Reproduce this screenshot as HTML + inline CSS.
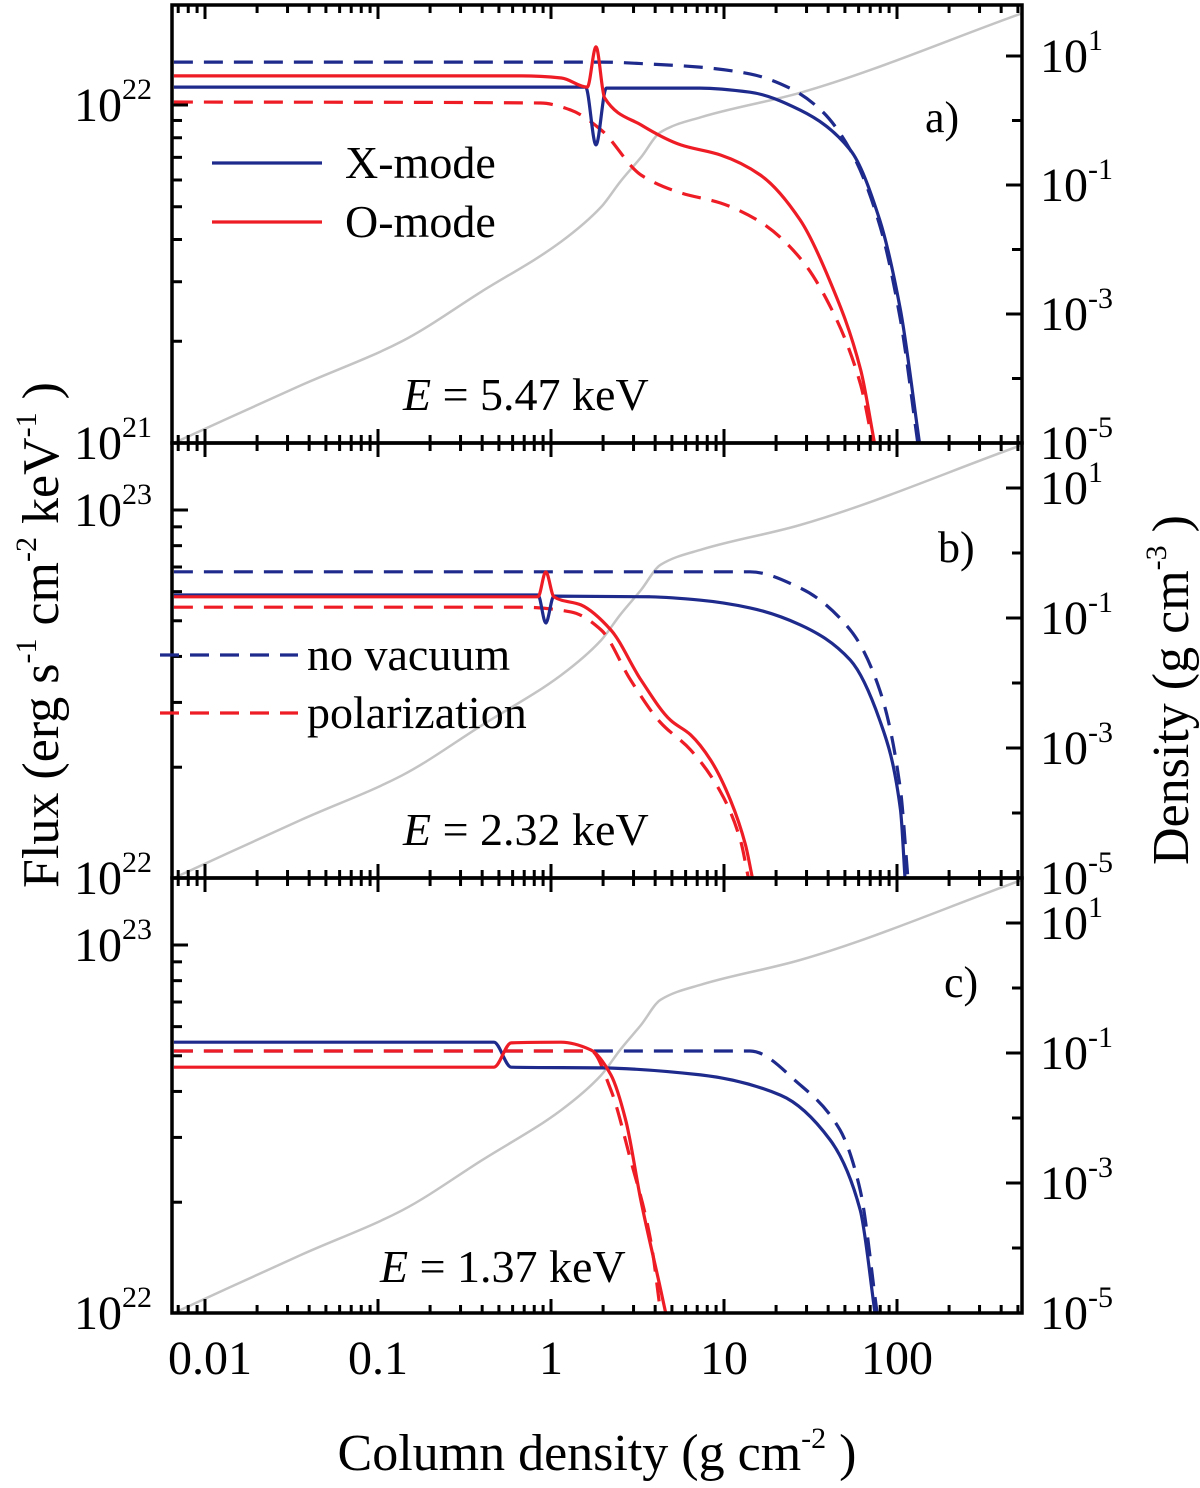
<!DOCTYPE html>
<html><head><meta charset="utf-8"><style>
html,body{margin:0;padding:0;background:#fff;}
svg text{font-family:"Liberation Serif",serif;fill:#000;}
</style></head><body>
<svg id="chart" width="1200" height="1483" viewBox="0 0 1200 1483" xmlns="http://www.w3.org/2000/svg"></svg>
<script>
// ---- data (log10 values) ----
const densCol = [-2.18,-1.44,-0.86,-0.40,0.058,0.29,0.40,0.52,0.634,0.865,1.44,2.72];
const densVal = [-5,-4.1,-3.42,-2.65,-1.88,-1.34,-0.95,-0.57,-0.18,0.05,0.43,1.66];

const aXCol = [-2.18,0.20,0.26,0.32,0.86,1.15,1.44,1.73,1.90,2.02,2.13];
const aXVal = [22.053,22.053,21.882,22.050,22.050,22.038,21.985,21.867,21.66,21.393,21.0];
const aOCol = [-2.18,-0.17,0.06,0.21,0.26,0.31,0.52,0.75,0.98,1.21,1.44,1.61,1.79,1.87];
const aOVal = [22.086,22.086,22.080,22.053,22.172,22.021,21.941,21.882,21.852,21.793,21.66,21.482,21.216,21.0];
const aXnvCol = [-2.18,0.29,0.58,0.86,1.15,1.38,1.56,1.73,1.90,2.02,2.12];
const aXnvVal = [22.127,22.127,22.121,22.112,22.092,22.05,21.985,21.867,21.645,21.364,21.0];
const aOnvCol = [-2.18,-0.06,0.115,0.29,0.52,0.75,0.98,1.21,1.44,1.61,1.79,1.86];
const aOnvVal = [22.009,22.006,21.985,21.926,21.793,21.74,21.71,21.654,21.547,21.408,21.172,21.0];

const bXCol = [-2.18,-0.075,-0.03,0.017,0.576,0.865,1.15,1.44,1.73,1.90,2.02,2.046];
const bXVal = [22.769,22.769,22.693,22.766,22.764,22.755,22.734,22.688,22.592,22.429,22.185,22.0];
const bOCol = [-2.18,-0.075,-0.03,0.017,0.173,0.346,0.52,0.69,0.807,0.922,1.037,1.124,1.164];
const bOVal = [22.764,22.764,22.832,22.764,22.742,22.674,22.538,22.429,22.389,22.321,22.212,22.09,22.0];
const bXnvCol = [-2.18,1.15,1.44,1.73,1.90,2.02,2.063];
const bXnvVal = [22.832,22.832,22.788,22.674,22.511,22.239,22.0];
const bOnvCol = [-2.18,-0.17,0.115,0.29,0.46,0.63,0.807,0.98,1.095,1.141];
const bOnvVal = [22.736,22.736,22.723,22.674,22.538,22.424,22.348,22.234,22.103,22.0];

const cXCol = [-2.18,-0.33,-0.23,0.29,0.865,1.326,1.614,1.787,1.873];
const cXVal = [22.736,22.736,22.668,22.666,22.647,22.592,22.47,22.28,22.0];
const cOCol = [-2.18,-0.33,-0.23,0.058,0.23,0.346,0.432,0.519,0.634,0.663];
const cOVal = [22.668,22.668,22.734,22.736,22.715,22.647,22.524,22.307,22.063,22.0];
const cXnvCol = [-2.18,1.15,1.44,1.671,1.787,1.885];
const cXnvVal = [22.712,22.712,22.62,22.497,22.334,22.0];
const cOnvCol = [-2.18,0.23,0.346,0.46,0.576,0.634];
const cOnvVal = [22.712,22.712,22.606,22.416,22.198,22.0];

const xTickVals = [-2,-1,0,1,2];
const xTickLabels = ["0.01","0.1","1","10","100"];
const energyLabels = ["5.47","2.32","1.37"];
const panelLetters = ["a)","b)","c)"];

// ---- layout ----
const NS="http://www.w3.org/2000/svg";
const svg=document.getElementById('chart');
const X0=172,X1=1022;
const xs=lc=>551+lc*173;
const BLUE="#1e2a8c",RED="#ee1c25";
function el(tag,attrs,parent){const e=document.createElementNS(NS,tag);for(const k in attrs)e.setAttribute(k,attrs[k]);(parent||svg).appendChild(e);return e;}

// monotone cubic (Fritsch-Carlson) sampled path
function smoothPath(px,py){
  const n=px.length; if(n<3) return px.map((x,i)=>(i?'L':'M')+x.toFixed(1)+','+py[i].toFixed(1)).join('');
  const d=[],m=new Array(n);
  for(let i=0;i<n-1;i++)d.push((py[i+1]-py[i])/((px[i+1]-px[i])||1e-6));
  m[0]=d[0];m[n-1]=d[n-2];
  for(let i=1;i<n-1;i++){ if(d[i-1]*d[i]<=0)m[i]=0; else {const h0=px[i]-px[i-1],h1=px[i+1]-px[i];const w1=2*h1+h0,w2=h1+2*h0;m[i]=(w1+w2)/(w1/d[i-1]+w2/d[i]);}}
  let s='M'+px[0].toFixed(1)+','+py[0].toFixed(1);
  for(let i=0;i<n-1;i++){const h=px[i+1]-px[i];
    s+='C'+(px[i]+h/3).toFixed(1)+','+(py[i]+m[i]*h/3).toFixed(1)+' '+(px[i+1]-h/3).toFixed(1)+','+(py[i+1]-m[i+1]*h/3).toFixed(1)+' '+px[i+1].toFixed(1)+','+py[i+1].toFixed(1);}
  return s;
}

const panels=[
 {top:5,bot:443,fMin:21,fDec:338,lbl:[21,22],key:'a',series:[[aXnvCol,aXnvVal,BLUE,1],[aOnvCol,aOnvVal,RED,1],[aXCol,aXVal,BLUE,0],[aOCol,aOVal,RED,0]]},
 {top:443,bot:878,fMin:22,fDec:368,lbl:[22,23],key:'b',series:[[bXnvCol,bXnvVal,BLUE,1],[bOnvCol,bOnvVal,RED,1],[bXCol,bXVal,BLUE,0],[bOCol,bOVal,RED,0]]},
 {top:878,bot:1313,fMin:22,fDec:368,lbl:[22,23],key:'c',series:[[cXnvCol,cXnvVal,BLUE,1],[cOnvCol,cOnvVal,RED,1],[cXCol,cXVal,BLUE,0],[cOCol,cOVal,RED,0]]}
];

panels.forEach((p,pi)=>{
  const g=el('g',{});
  
  
  const ys=lf=>p.bot-(lf-p.fMin)*p.fDec;
  const yd=ld=>p.bot-(ld+5)*(pi==0?64.5:65);
  const clip=el('clipPath',{id:'clip'+pi},g);
  el('rect',{x:X0,y:p.top,width:X1-X0,height:p.bot-p.top},clip);
  const dl=el('path',{d:smoothPath(densCol.map(xs),densVal.map(yd)),fill:'none',stroke:'#c4c4c4','stroke-width':2.5,'clip-path':'url(#clip'+pi+')'},g);
  
  
  p.series.forEach(s=>{
    const l=el('path',{d:smoothPath(s[0].map(xs),s[1].map(ys)),fill:'none',stroke:s[2],'stroke-width':3.2,'stroke-linejoin':'miter','stroke-dasharray':s[3]?'19 11':'none','clip-path':'url(#clip'+pi+')'},g);
    
    
  });
  el('rect',{x:X0,y:p.top,width:X1-X0,height:p.bot-p.top,fill:'none',stroke:'#000','stroke-width':3.5},g);
  for(let d=-3;d<=2;d++){for(let m=1;m<=9;m++){
    const x=xs(d+Math.log10(m)); if(x<X0+1||x>X1-1)continue;
    const L=m==1?14:8;
    el('line',{x1:x,x2:x,y1:p.bot,y2:p.bot-L,stroke:'#000','stroke-width':3},g);
    el('line',{x1:x,x2:x,y1:p.top,y2:p.top+L,stroke:'#000','stroke-width':3},g);
  }}
  for(let d=p.fMin;d<=p.fMin+1;d++){for(let m=1;m<=9;m++){
    const y=ys(d+Math.log10(m)); if(y<p.top+1||y>p.bot-1)continue;
    el('line',{x1:X0,x2:X0+(m==1?16:10),y1:y,y2:y,stroke:'#000','stroke-width':3},g);
  }}
  for(let d=-4;d<=1;d++){const y=yd(d); el('line',{x1:X1,x2:X1-(d%2?16:10),y1:y,y2:y,stroke:'#000','stroke-width':3},g);}
  p.lbl.forEach(v=>{
    const t=el('text',{x:152,y:ys(v)+16,'font-size':48,'text-anchor':'end'},g);
    t.innerHTML='10<tspan dy="-22" font-size="30">'+v+'</tspan>';
    
    
  });
  [1,-1,-3,-5].forEach(v=>{
    const t=el('text',{x:1040,y:yd(v)+16,'font-size':48},g);
    t.innerHTML='10<tspan dy="-22" font-size="30">'+v+'</tspan>';
    
    
  });
  const pl=el('text',{x:[925,938,944][pi],y:[132,562,997][pi],'font-size':44},g);
  pl.textContent=panelLetters[pi];
  
  
  const et=el('text',{x:[403,403,380][pi],y:[410,845,1282][pi],'font-size':46},g);
  et.innerHTML='<tspan font-style="italic">E</tspan> = '+energyLabels[pi]+' keV';
  
  
});

xTickVals.forEach((v,i)=>{
  const t=el('text',{x:xs(v)+(v==-2?5:0),y:1374,'font-size':48,'text-anchor':'middle'});
  t.textContent=xTickLabels[i];
  
  
});

function leg(x1,x2,y,col,dash,label,tx,name){
  const g=el('g',{});
  
  
  el('line',{x1:x1,x2:x2,y1:y,y2:y,stroke:col,'stroke-width':3.2,'stroke-dasharray':dash?'19 11':'none'},g);
  const t=el('text',{x:tx,y:y+15,'font-size':46},g); t.textContent=label;
}
leg(212,322,163,BLUE,0,'X-mode',345,'legend-x-mode');
leg(212,322,222,RED,0,'O-mode',345,'legend-o-mode');
leg(160,298,655,BLUE,1,'no vacuum',307,'legend-no-vacuum');
leg(160,298,713,RED,1,'polarization',307,'legend-polarization');

let t=el('text',{x:0,y:0,'font-size':52,'text-anchor':'middle',transform:'translate(58,635) rotate(-90)'});
t.innerHTML='Flux  (erg s<tspan dy="-22" font-size="30">-1</tspan><tspan dy="22"> cm</tspan><tspan dy="-22" font-size="30">-2</tspan><tspan dy="22"> keV</tspan><tspan dy="-22" font-size="30">-1</tspan><tspan dy="22"> )</tspan>';


t=el('text',{x:0,y:0,'font-size':52,'text-anchor':'middle',transform:'translate(1188,690) rotate(-90)'});
t.innerHTML='Density (g cm<tspan dy="-22" font-size="30">-3</tspan><tspan dy="22"> )</tspan>';


t=el('text',{x:597,y:1470,'font-size':52,'text-anchor':'middle'});
t.innerHTML='Column density (g cm<tspan dy="-22" font-size="30">-2</tspan><tspan dy="22"> )</tspan>';


</script>
</body></html>
